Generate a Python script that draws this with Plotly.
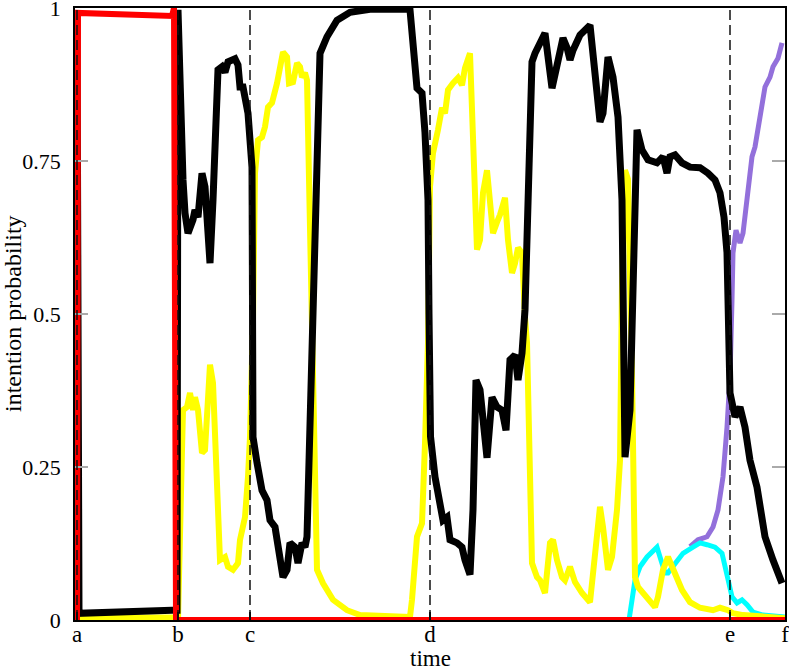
import plotly.graph_objects as go

# time axis runs 0..710, the event markers a-f sit at these times
event_times = [2, 103, 175, 355, 655, 710]
event_labels = ['a', 'b', 'c', 'd', 'e', 'f']
dashed_events = [2, 103, 175, 355, 655]

y_ticks = [0, 0.25, 0.5, 0.75, 1]
y_tick_text = ['0', '0.25', '0.5', '0.75', '1']

t_red = [2, 3, 97, 99, 101, 710]
p_red = [0.0, 0.992, 0.987, 1.0, 0.0, 0.0]

t_black = [2, 4, 97, 102, 103, 105, 108, 110, 113, 118, 120, 123, 127, 130, 135, 138, 143, 147, 150, 153,
           160, 163, 165, 168, 173, 177, 178, 182, 187, 192, 195, 200, 208, 212, 215, 220, 223, 227, 230,
           232, 238, 244, 245, 252, 262, 275, 295, 333, 335, 342, 347, 350, 353, 354, 355.5, 360, 365, 368,
           372, 375, 382, 387, 390, 395, 398, 401, 405, 408, 412, 417, 422, 427, 431, 435, 440, 443, 447,
           450, 455, 457, 460, 465, 470, 477, 482, 488, 492, 495, 498, 505, 515, 518, 525, 528, 533, 538,
           543, 547, 550, 555, 558, 562, 567, 573, 582, 588, 592, 595, 600, 607, 615, 625, 633, 640, 645,
           649, 652, 655, 660, 665, 670, 675, 682, 690, 698, 707]
p_black = [0.99, 0.011, 0.016, 0.016, 0.997, 0.85, 0.719, 0.665, 0.632, 0.654, 0.670, 0.658, 0.730, 0.708,
           0.583, 0.686, 0.899, 0.904, 0.895, 0.912, 0.917, 0.907, 0.871, 0.871, 0.828, 0.740, 0.299, 0.257,
           0.212, 0.196, 0.163, 0.152, 0.070, 0.082, 0.126, 0.119, 0.093, 0.126, 0.119, 0.136, 0.507, 0.88,
           0.926, 0.953, 0.980, 0.993, 0.998, 0.998, 0.997, 0.869, 0.861, 0.796, 0.686, 0.50, 0.30, 0.234,
           0.191, 0.163, 0.168, 0.131, 0.126, 0.119, 0.098, 0.074, 0.180, 0.392, 0.376, 0.315, 0.265, 0.364,
           0.348, 0.343, 0.310, 0.425, 0.433, 0.392, 0.436, 0.507, 0.740, 0.912, 0.926, 0.943, 0.959, 0.869,
           0.910, 0.951, 0.935, 0.915, 0.931, 0.956, 0.972, 0.931, 0.814, 0.828, 0.920, 0.887, 0.822, 0.686,
           0.266, 0.343, 0.507, 0.801, 0.768, 0.752, 0.747, 0.757, 0.730, 0.757, 0.760, 0.747, 0.740, 0.739,
           0.730, 0.719, 0.698, 0.658, 0.600, 0.371, 0.332, 0.348, 0.315, 0.261, 0.217, 0.136, 0.098, 0.060]

t_yellow = [2, 3, 100, 102, 103, 107, 108, 112, 115, 118, 120, 123, 127, 130, 133, 135, 138, 142, 145, 150,
            153, 158, 163, 165, 170, 173, 175, 178, 180, 183, 187, 190, 193, 197, 202, 208, 212, 214, 218,
            222, 225, 227, 230, 232, 235, 238, 242, 248, 258, 272, 285, 335, 337, 342, 347, 350, 353, 355,
            358, 363, 367, 370, 373, 378, 383, 387, 390, 395, 398, 402, 405, 408, 412, 415, 418, 422, 425,
            430, 433, 437, 440, 443, 447, 450, 452, 457, 462, 465, 470, 475, 478, 482, 487, 490, 495, 500,
            507, 515, 522, 525, 528, 533, 537, 542, 545, 547, 550, 553, 557, 560, 563, 572, 580, 583, 588,
            593, 598, 607, 615, 625, 638, 645, 653, 658, 668, 685, 710]
p_yellow = [0.0, 0.004, 0.004, 0.0, 0.0, 0.278, 0.343, 0.348, 0.371, 0.343, 0.364, 0.343, 0.273, 0.278,
            0.397, 0.417, 0.387, 0.180, 0.098, 0.103, 0.087, 0.082, 0.093, 0.131, 0.168, 0.234, 0.299, 0.490,
            0.730, 0.784, 0.789, 0.806, 0.838, 0.845, 0.877, 0.928, 0.920, 0.877, 0.879, 0.910, 0.904, 0.887,
            0.894, 0.882, 0.632, 0.490, 0.082, 0.060, 0.033, 0.016, 0.008, 0.005, 0.033, 0.136, 0.158, 0.289,
            0.453, 0.708, 0.763, 0.801, 0.837, 0.828, 0.866, 0.877, 0.886, 0.874, 0.902, 0.926, 0.779, 0.605,
            0.621, 0.698, 0.735, 0.686, 0.632, 0.650, 0.662, 0.690, 0.621, 0.567, 0.583, 0.608, 0.600, 0.495,
            0.453, 0.093, 0.070, 0.065, 0.044, 0.126, 0.131, 0.098, 0.070, 0.065, 0.087, 0.062, 0.044, 0.029,
            0.136, 0.185, 0.152, 0.082, 0.103, 0.180, 0.261, 0.55, 0.735, 0.72, 0.40, 0.07, 0.054, 0.038,
            0.021, 0.038, 0.082, 0.103, 0.082, 0.049, 0.029, 0.020, 0.016, 0.020, 0.016, 0.011, 0.008, 0.005,
            0.003]

t_cyan = [550, 554, 560, 565, 572, 582, 585, 590, 593, 600, 608, 618, 625, 632, 640, 647, 652, 657, 662,
          667, 672, 678, 688, 702, 710]
p_cyan = [0.0, 0.0, 0.065, 0.087, 0.103, 0.119, 0.103, 0.077, 0.077, 0.093, 0.109, 0.119, 0.126, 0.123,
          0.119, 0.109, 0.077, 0.038, 0.028, 0.033, 0.025, 0.013, 0.008, 0.005, 0.005]

t_purple = [615, 623, 632, 638, 643, 648, 652, 655, 657, 658, 661, 665, 668, 672, 677, 680, 685, 690, 695,
            698, 703, 707]
p_purple = [0.12, 0.131, 0.136, 0.152, 0.180, 0.234, 0.315, 0.397, 0.523, 0.600, 0.637, 0.616, 0.632,
            0.686, 0.757, 0.773, 0.817, 0.871, 0.887, 0.904, 0.918, 0.943]

serif = 'Liberation Serif'

fig = go.Figure()

# drawing order matters: red ends up on top, like the original
series = [
    (t_purple, p_purple, '#9370db', 5),
    (t_cyan, p_cyan, '#00ffff', 5),
    (t_yellow, p_yellow, '#ffff00', 6),
    (t_black, p_black, '#000000', 7),
    (t_red, p_red, '#ff0000', 6),
]
for t, p, c, w in series:
    fig.add_trace(go.Scatter(x=t, y=p, mode='lines', line=dict(color=c, width=w),
                             showlegend=False, hoverinfo='skip'))

for t in dashed_events:
    fig.add_shape(type='line', x0=t, x1=t, y0=0, y1=1, xref='x', yref='paper',
                  line=dict(color='#111111', width=1.5, dash='10px,5px'))

fig.add_annotation(text='intention probability', x=-0.0873, y=0.5, xref='paper', yref='paper',
                   textangle=-90, showarrow=False, xanchor='center', yanchor='middle',
                   font=dict(family=serif, size=24, color='black'))
fig.add_annotation(text='time', x=0.5, y=-0.0625, xref='paper', yref='paper',
                   showarrow=False, xanchor='center', yanchor='middle',
                   font=dict(family=serif, size=23, color='black'))

fig.update_layout(width=789, height=666, margin=dict(l=75, r=4, t=8, b=46, autoexpand=False),
                  plot_bgcolor='white', paper_bgcolor='white',
                  font=dict(family=serif, size=22, color='black'))
fig.update_xaxes(range=[0, 710], tickvals=event_times, ticktext=event_labels, automargin=False,
                 showgrid=False, zeroline=False, showline=True, linecolor='black', linewidth=1.5,
                 mirror=True, ticks='inside', ticklen=8, tickcolor='black', tickwidth=1.5,
                 ticklabeloverflow='allow', ticklabelstandoff=-7, tickfont=dict(size=23))
fig.update_yaxes(range=[0, 1], tickvals=y_ticks, ticktext=y_tick_text, automargin=False,
                 showgrid=False, zeroline=False, showline=True, linecolor='black', linewidth=1.5,
                 mirror='ticks', ticks='inside', ticklen=13, tickcolor='#aaaaaa', tickwidth=1.5,
                 ticklabelstandoff=8, ticklabeloverflow='allow')

# page body has a default 8px margin, drop it so the figure sits at the window corner
fig.write_html("out.html", config={'displayModeBar': False},
               post_script="document.body.style.margin = '0';")
